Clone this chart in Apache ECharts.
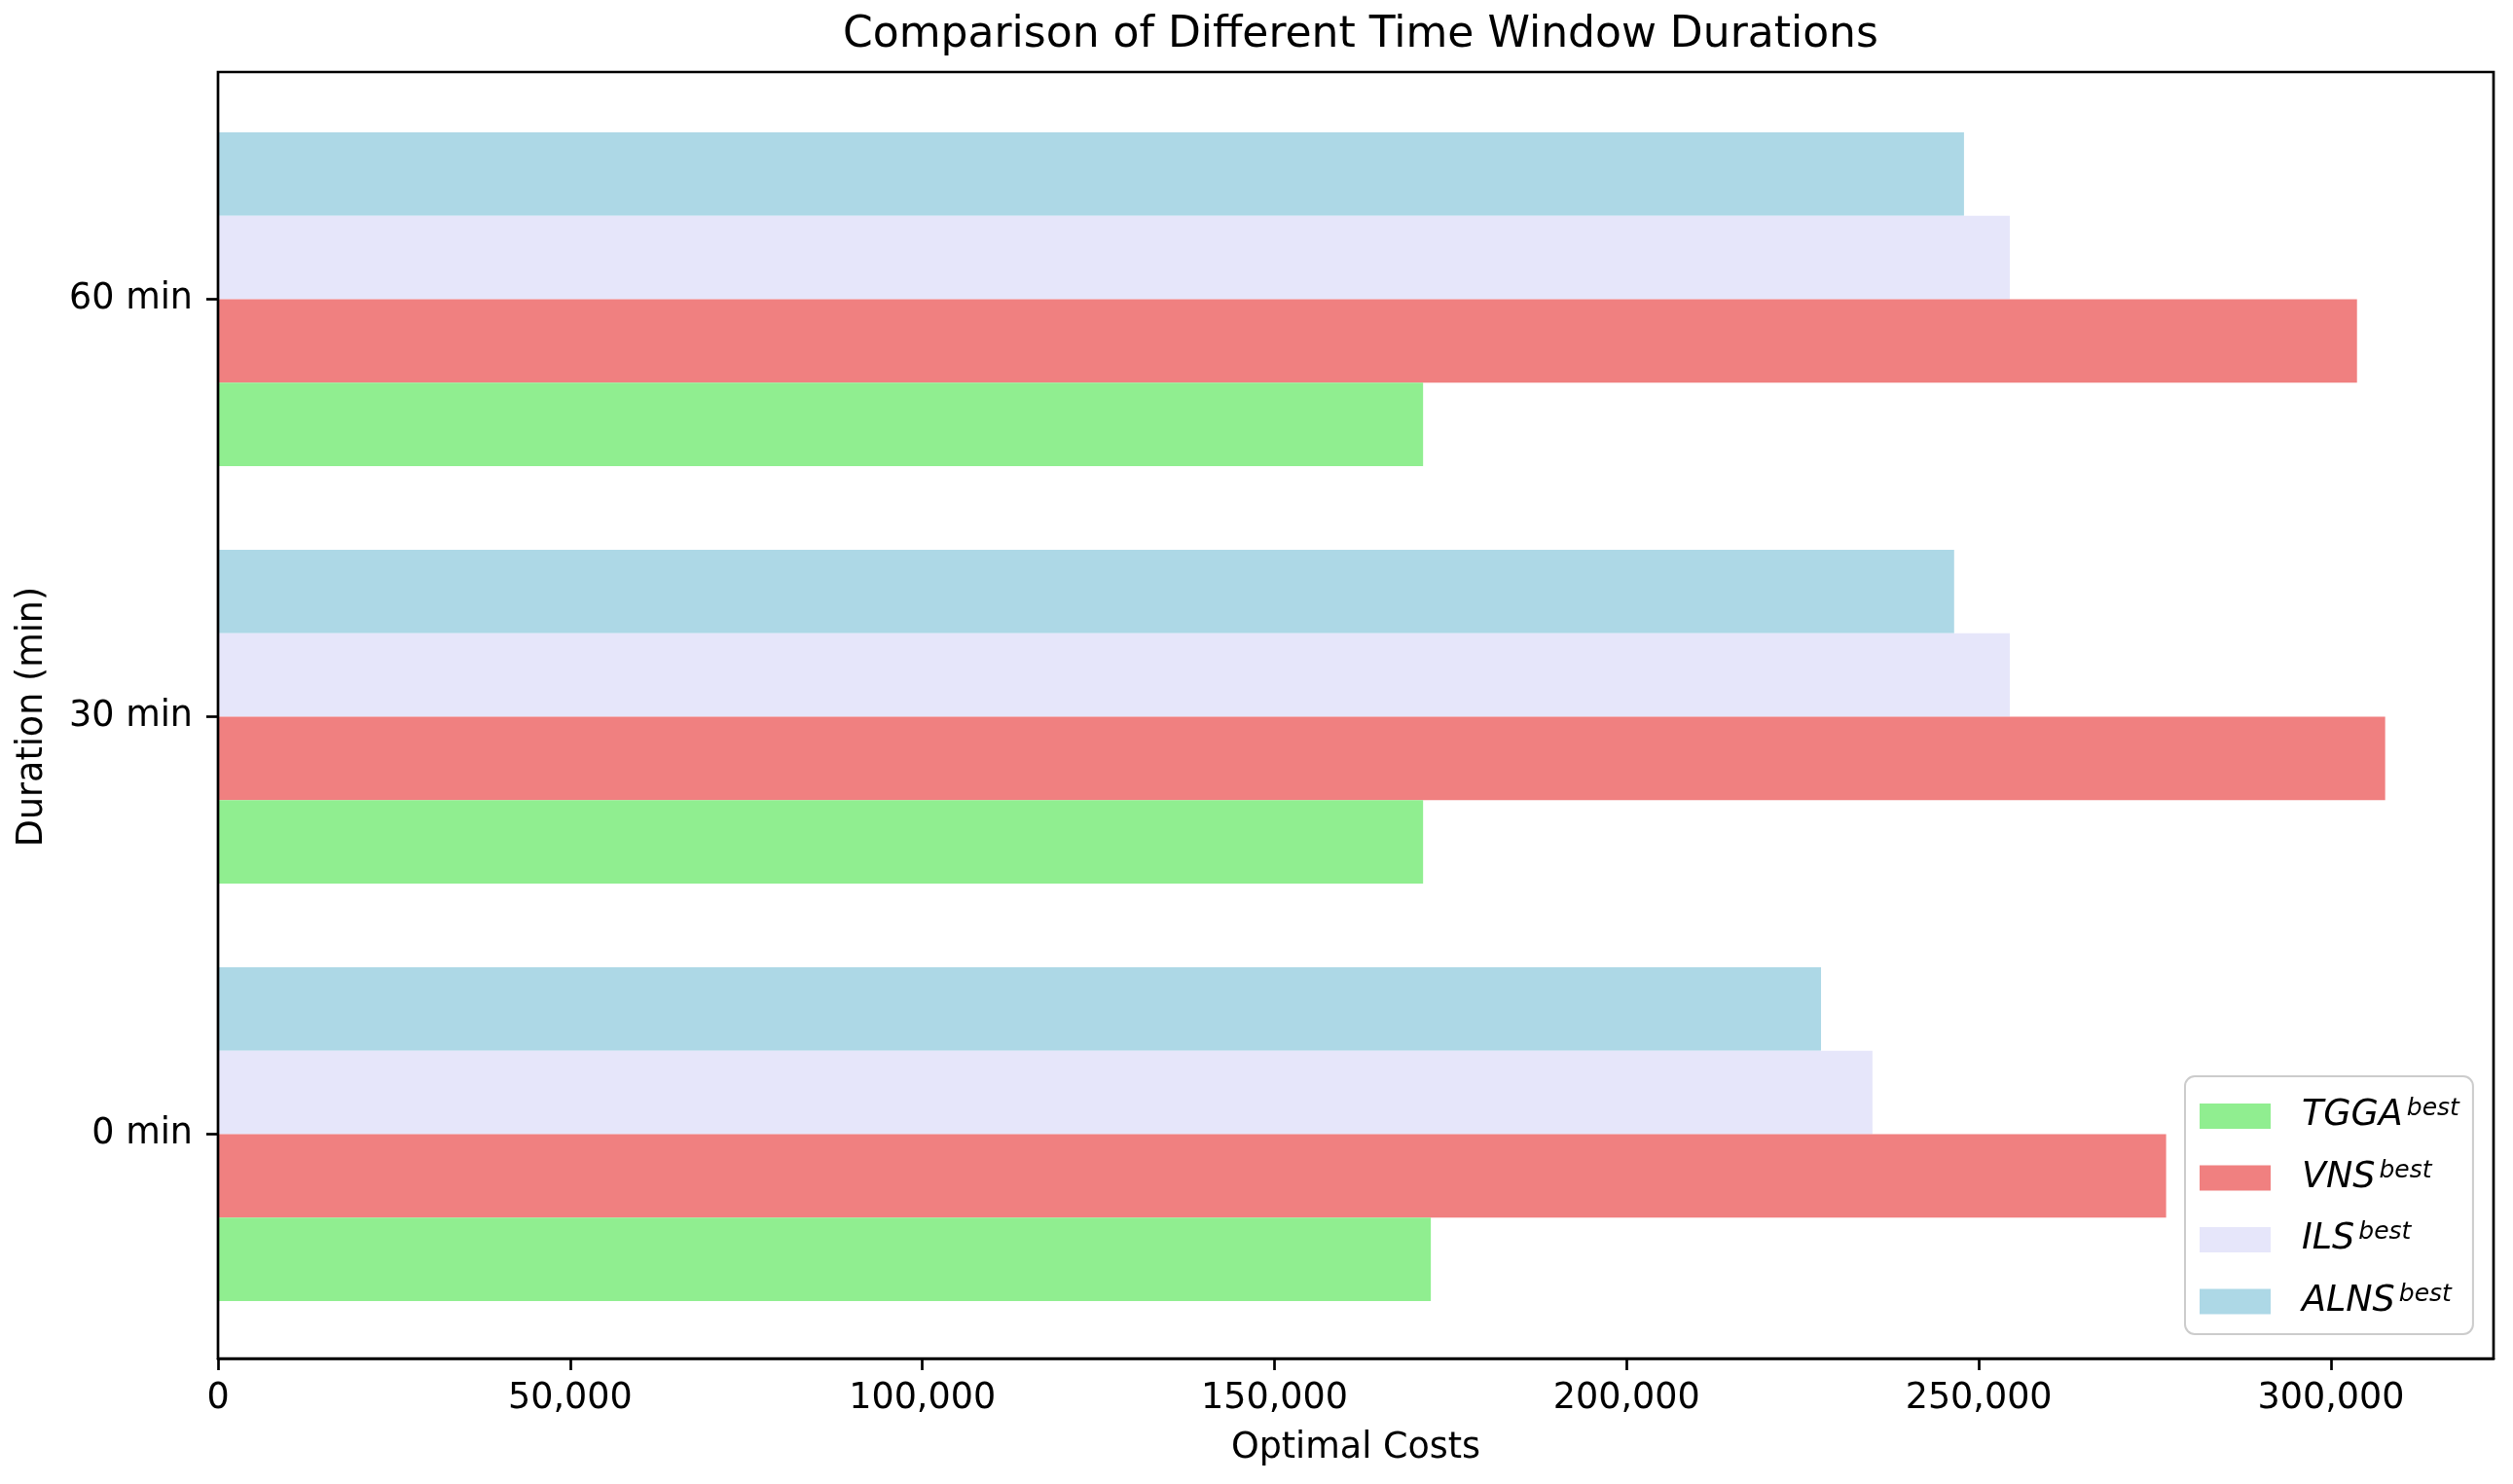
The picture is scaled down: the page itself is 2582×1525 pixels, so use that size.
<!DOCTYPE html>
<html>
<head>
<meta charset="utf-8">
<script src="https://cdn.jsdelivr.net/npm/echarts@6/dist/echarts.min.js"></script>
<style>
html,body{margin:0;padding:0;background:#fff;}
#chart{width:2582px;height:1525px;}
</style>
</head>
<body>
<div id="chart"></div>
<script>
const categories = ['0 min', '30 min', '60 min'];
const tggaBest = [172200, 171100, 171100];
const vnsBest = [276600, 307700, 303700];
const ilsBest = [234900, 254400, 254400];
const alnsBest = [227600, 246500, 247900];
const xTicks = [0, 50000, 100000, 150000, 200000, 250000, 300000];
const legendOrder = ['TGGA', 'VNS', 'ILS', 'ALNS'];

const FONT = 'DejaVu Sans';
const FS = 36.5;
const allVals = [].concat(tggaBest, vnsBest, ilsBest, alnsBest);
const xMax = Math.max.apply(null, allVals) * 1.05;

const chart = echarts.init(document.getElementById('chart'), null, {renderer: 'canvas'});

const option = {
  backgroundColor: '#fff',
  animation: false,
  textStyle: {fontFamily: FONT},
  title: {
    text: 'Comparison of Different Time Window Durations',
    left: 1393,
    textAlign: 'center',
    top: 10,
    textStyle: {fontFamily: FONT, fontSize: 44, fontWeight: 'normal', color: '#000'}
  },
  legend: {
    orient: 'vertical',
    left: 2245,
    top: 1106,
    data: legendOrder,
    icon: 'rect',
    itemWidth: 73,
    itemHeight: 26,
    itemGap: 25,
    padding: [21, 14, 15, 15],
    backgroundColor: 'rgba(255,255,255,0.8)',
    borderColor: '#cccccc',
    borderWidth: 2,
    borderRadius: 10,
    formatter: function (name) { return '{i|' + name + '}{s|best}'; },
    textStyle: {
      padding: [0, 0, 0, 27],
      rich: {
        i: {fontFamily: FONT, fontSize: FS, fontStyle: 'italic', color: '#000', lineHeight: 40},
        s: {fontFamily: FONT, fontSize: 25, fontStyle: 'italic', color: '#000', lineHeight: 14,
            verticalAlign: 'top', padding: [0, 0, 0, 4]}
      }
    }
  },
  grid: [
    {left: 224, right: 20, top: 74, height: 1322, show: true, z: 10,
     backgroundColor: 'transparent', borderColor: '#000', borderWidth: 2.7},
    {left: 224, right: 20, top: 93, height: 1287}
  ],
  xAxis: [
    {
      type: 'value', gridIndex: 0, min: 0, max: xMax,
      splitLine: {show: false},
      axisLine: {show: true, lineStyle: {color: '#000', width: 2.7}},
      axisTick: {show: true, inside: false, length: 12, lineStyle: {color: '#000', width: 2.7}, customValues: xTicks},
      axisLabel: {
        margin: 23, fontSize: FS, color: '#000', fontFamily: FONT,
        customValues: xTicks,
        formatter: function (v) { return v.toLocaleString('en-US'); }
      },
      name: 'Optimal Costs', nameLocation: 'middle', nameGap: 74,
      nameTextStyle: {fontSize: FS, color: '#000', fontFamily: FONT}
    },
    {type: 'value', gridIndex: 1, min: 0, max: xMax, show: false}
  ],
  yAxis: [
    {type: 'value', gridIndex: 0, min: 0, max: 1, show: false},
    {
      type: 'category', gridIndex: 1, data: categories,
      axisLine: {show: false},
      axisTick: {show: true, alignWithLabel: true, inside: false, length: 12, lineStyle: {color: '#000', width: 2.7}},
      axisLabel: {margin: 26, fontSize: FS, color: '#000', fontFamily: FONT},
      splitLine: {show: false},
      name: 'Duration (min)', nameLocation: 'middle', nameGap: 172,
      nameTextStyle: {fontSize: FS, color: '#000', fontFamily: FONT}
    }
  ],
  series: [
    {name: 'ALNS', type: 'bar', xAxisIndex: 1, yAxisIndex: 1, data: alnsBest,
     itemStyle: {color: '#ADD8E6'}, barGap: '0%', barCategoryGap: '20%'},
    {name: 'ILS', type: 'bar', xAxisIndex: 1, yAxisIndex: 1, data: ilsBest,
     itemStyle: {color: '#E6E6FA'}, barGap: '0%', barCategoryGap: '20%'},
    {name: 'VNS', type: 'bar', xAxisIndex: 1, yAxisIndex: 1, data: vnsBest,
     itemStyle: {color: '#F08080'}, barGap: '0%', barCategoryGap: '20%'},
    {name: 'TGGA', type: 'bar', xAxisIndex: 1, yAxisIndex: 1, data: tggaBest,
     itemStyle: {color: '#90EE90'}, barGap: '0%', barCategoryGap: '20%'}
  ]
};
chart.setOption(option);
</script>
</body>
</html>
